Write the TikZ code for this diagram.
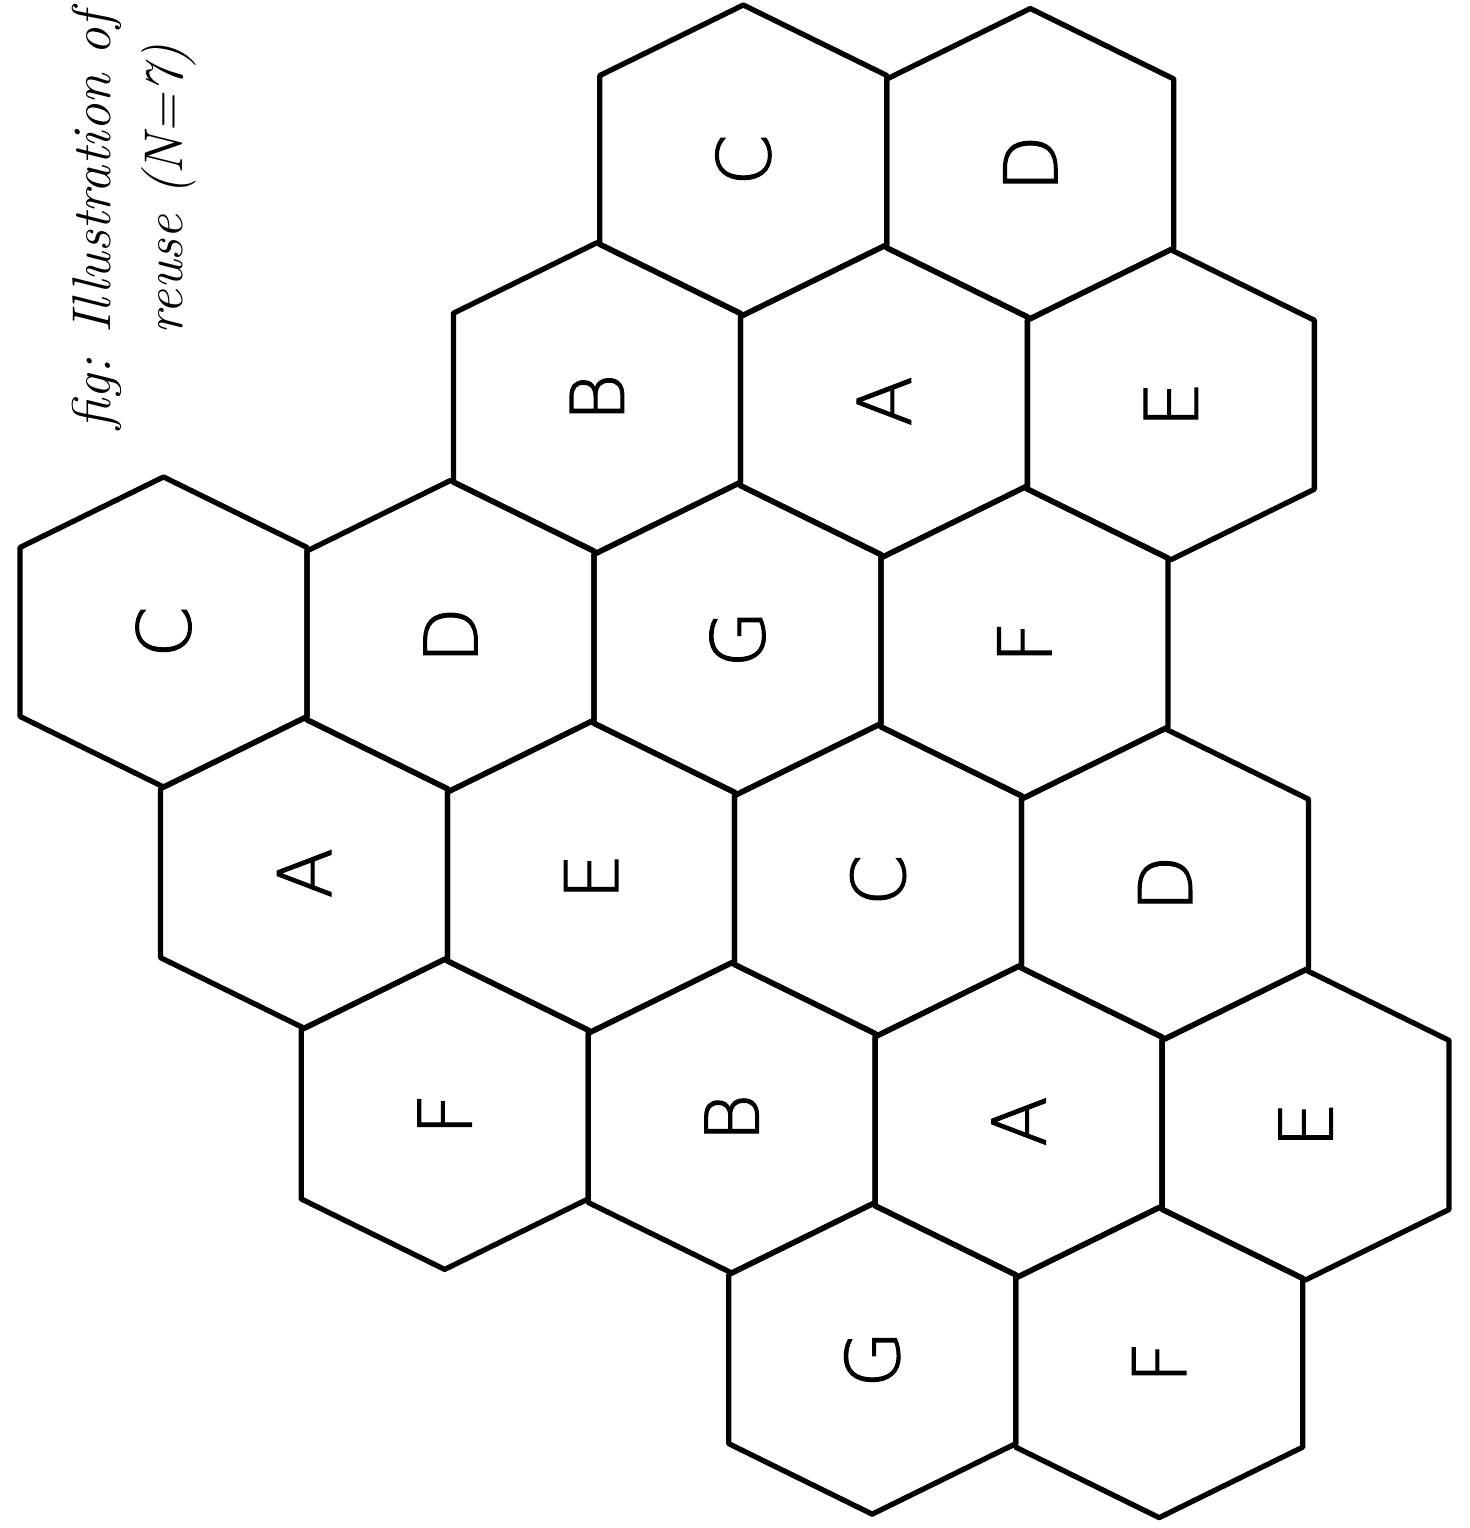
\documentclass[tikz,border=0pt]{standalone}
\usepackage{fontspec}
\newfontfamily\cellfont{DejaVu Sans}[UprightFont=* ExtraLight,FakeBold=1.5]
\tikzset{
  hexcell/.pic={\draw[line width=1.5pt,line join=round]
    (0,-155) -- (143.5,-84.5) -- (143.5,84.5) -- (0,155)
    -- (-143.5,84.5) -- (-143.5,-84.5) -- cycle;},
  cell/.style={rotate=90,inner sep=0pt,font=\cellfont\fontsize{21}{21}\selectfont},
  handnote/.style={rotate=90,anchor=base west,inner sep=0pt,font=\itshape\fontsize{15.5}{19}\selectfont}
}

\begin{document}
\begin{tikzpicture}[x=0.01cm,y=-0.01cm]
\useasboundingbox (0,0) rectangle (1469,1528);
\begin{scope}[rotate around={-0.7:(740,760)}]
% row 1
\pic at (736,160) {hexcell};
\pic at (1023,160) {hexcell};
\node[cell] (cC1) at (736,160) {C};
\node[cell] (cD1) at (1023,160) {D};
% row 2
\pic at (592.5,399.5) {hexcell};
\pic at (879.5,399.5) {hexcell};
\pic at (1166.5,399.5) {hexcell};
\node[cell] (cB1) at (592.5,399.5) {B};
\node[cell] (cA1) at (879.5,399.5) {A};
\node[cell] (cE1) at (1166.5,399.5) {E};
% row 3
\pic at (162,639) {hexcell};
\pic at (449,639) {hexcell};
\pic at (736,639) {hexcell};
\pic at (1023,639) {hexcell};
\node[cell] (cC2) at (162,639) {C};
\node[cell] (cD2) at (449,639) {D};
\node[cell] (cG1) at (736,639) {G};
\node[cell] (cF1) at (1023,639) {F};
% row 4
\pic at (305.5,878.5) {hexcell};
\pic at (592.5,878.5) {hexcell};
\pic at (879.5,878.5) {hexcell};
\pic at (1166.5,878.5) {hexcell};
\node[cell] (cA2) at (305.5,878.5) {A};
\node[cell] (cE2) at (592.5,878.5) {E};
\node[cell] (cC3) at (879.5,878.5) {C};
\node[cell] (cD3) at (1166.5,878.5) {D};
% row 5
\pic at (449,1118) {hexcell};
\pic at (736,1118) {hexcell};
\pic at (1023,1118) {hexcell};
\pic at (1310,1118) {hexcell};
\node[cell] (cF2) at (449,1118) {F};
\node[cell] (cB2) at (736,1118) {B};
\node[cell] (cA3) at (1023,1118) {A};
\node[cell] (cE3) at (1310,1118) {E};
% row 6
\pic at (879.5,1357.5) {hexcell};
\pic at (1166.5,1357.5) {hexcell};
\node[cell] (cG2) at (879.5,1357.5) {G};
\node[cell] (cF3) at (1166.5,1357.5) {F};
\end{scope}
% handwritten caption
\node[handnote] (figline) at (110,430) {fig: Illustration of};
\node[handnote] (reuseline) at (182,335) {reuse (N=7)};
\end{tikzpicture}
\end{document}
